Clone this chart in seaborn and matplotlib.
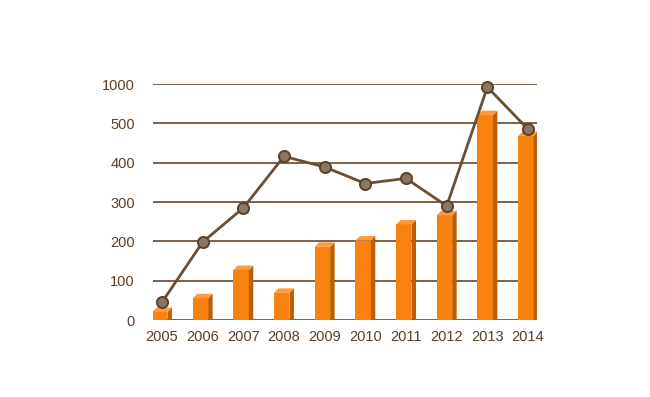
import numpy as np
import matplotlib
matplotlib.use("Agg")
import matplotlib.pyplot as plt
import seaborn as sns
from matplotlib.patches import Polygon
from matplotlib.transforms import IdentityTransform

years = ["2005", "2006", "2007", "2008", "2009", "2010", "2011", "2012", "2013", "2014"]
bar_values = [20, 55, 127, 69, 186, 202, 243, 266, 604, 468]
line_values = [45, 198, 285, 416, 389, 347, 360, 290, 960, 485]
y_ticks = [0, 100, 200, 300, 400, 500, 1000]

TEXT = "#5b3f27"
GRID = "#7d6048"
LINE = "#6b4e33"
FRONT = "#f8820e"
SIDE = "#c05d00"
TOP = "#ff9a3a"

sns.set_theme(style="white")
plt.rcParams["font.family"] = ["Liberation Sans", "DejaVu Sans"]

def fwd(v):
    v = np.asarray(v, dtype=float)
    return np.where(v <= 500, v / 100.0, 5 + (v - 500) / 500.0)

def inv(p):
    p = np.asarray(p, dtype=float)
    return np.where(p <= 5, p * 100.0, 500 + (p - 5) * 500.0)

fig = plt.figure(figsize=(6.5, 3.97), dpi=100)
ax = fig.add_axes([153 / 650, 77 / 397, (537 - 153) / 650, (313 - 77) / 397])
ax.set_yscale("function", functions=(fwd, inv))

sns.barplot(x=years, y=bar_values, color=FRONT, saturation=1, width=0.38, ax=ax, zorder=2)
bars = list(ax.patches)

sns.pointplot(x=years, y=line_values, color=LINE, markers="o", markersize=8,
              linewidth=2.0, ax=ax, zorder=5,
              markerfacecolor="#8b7664", markeredgecolor="#5a412c", markeredgewidth=1.4)
for l in ax.lines:
    l.set_clip_on(False)

ax.set_xlim(-0.22, 9.22)
ax.set_ylim(0, 1000)
ax.set_yticks(y_ticks)
ax.set_yticklabels([str(t) for t in y_ticks])
ax.yaxis.set_minor_locator(matplotlib.ticker.NullLocator())
ax.grid(axis="y", color=GRID, linewidth=1.4)
ax.grid(axis="x", visible=False)
ax.set_axisbelow(True)
for s in ax.spines.values():
    s.set_visible(False)
ax.tick_params(axis="y", length=0, pad=13, labelsize=10.5, labelcolor=TEXT)
ax.tick_params(axis="x", length=0, pad=7, labelsize=10.5, labelcolor=TEXT)
ax.set_xlabel("")
ax.set_ylabel("")

# 3D faces
d = 4.5
fig.canvas.draw()
px_per_unit = ax.transData.transform((1, 0))[0] - ax.transData.transform((0, 0))[0]
shift = (d / 2) / px_per_unit
for b in bars:
    b.set_x(b.get_x() - shift)
    b.set_edgecolor("none")
fig.canvas.draw()
for b in bars:
    bb = b.get_window_extent()
    x0, x1, y0, y1 = bb.x0, bb.x1, bb.y0, bb.y1
    side = Polygon([(x1, y0), (x1, y1), (x1 + d, y1 + d), (x1 + d, y0)],
                   closed=True, facecolor=SIDE, edgecolor="none",
                   transform=IdentityTransform(), zorder=2.1)
    top = Polygon([(x0, y1), (x1, y1), (x1 + d, y1 + d), (x0 + d, y1 + d)],
                  closed=True, facecolor=TOP, edgecolor="none",
                  transform=IdentityTransform(), zorder=2.1)
    ax.add_patch(side)
    ax.add_patch(top)

fig.savefig("out.png", dpi=100, facecolor="white")
